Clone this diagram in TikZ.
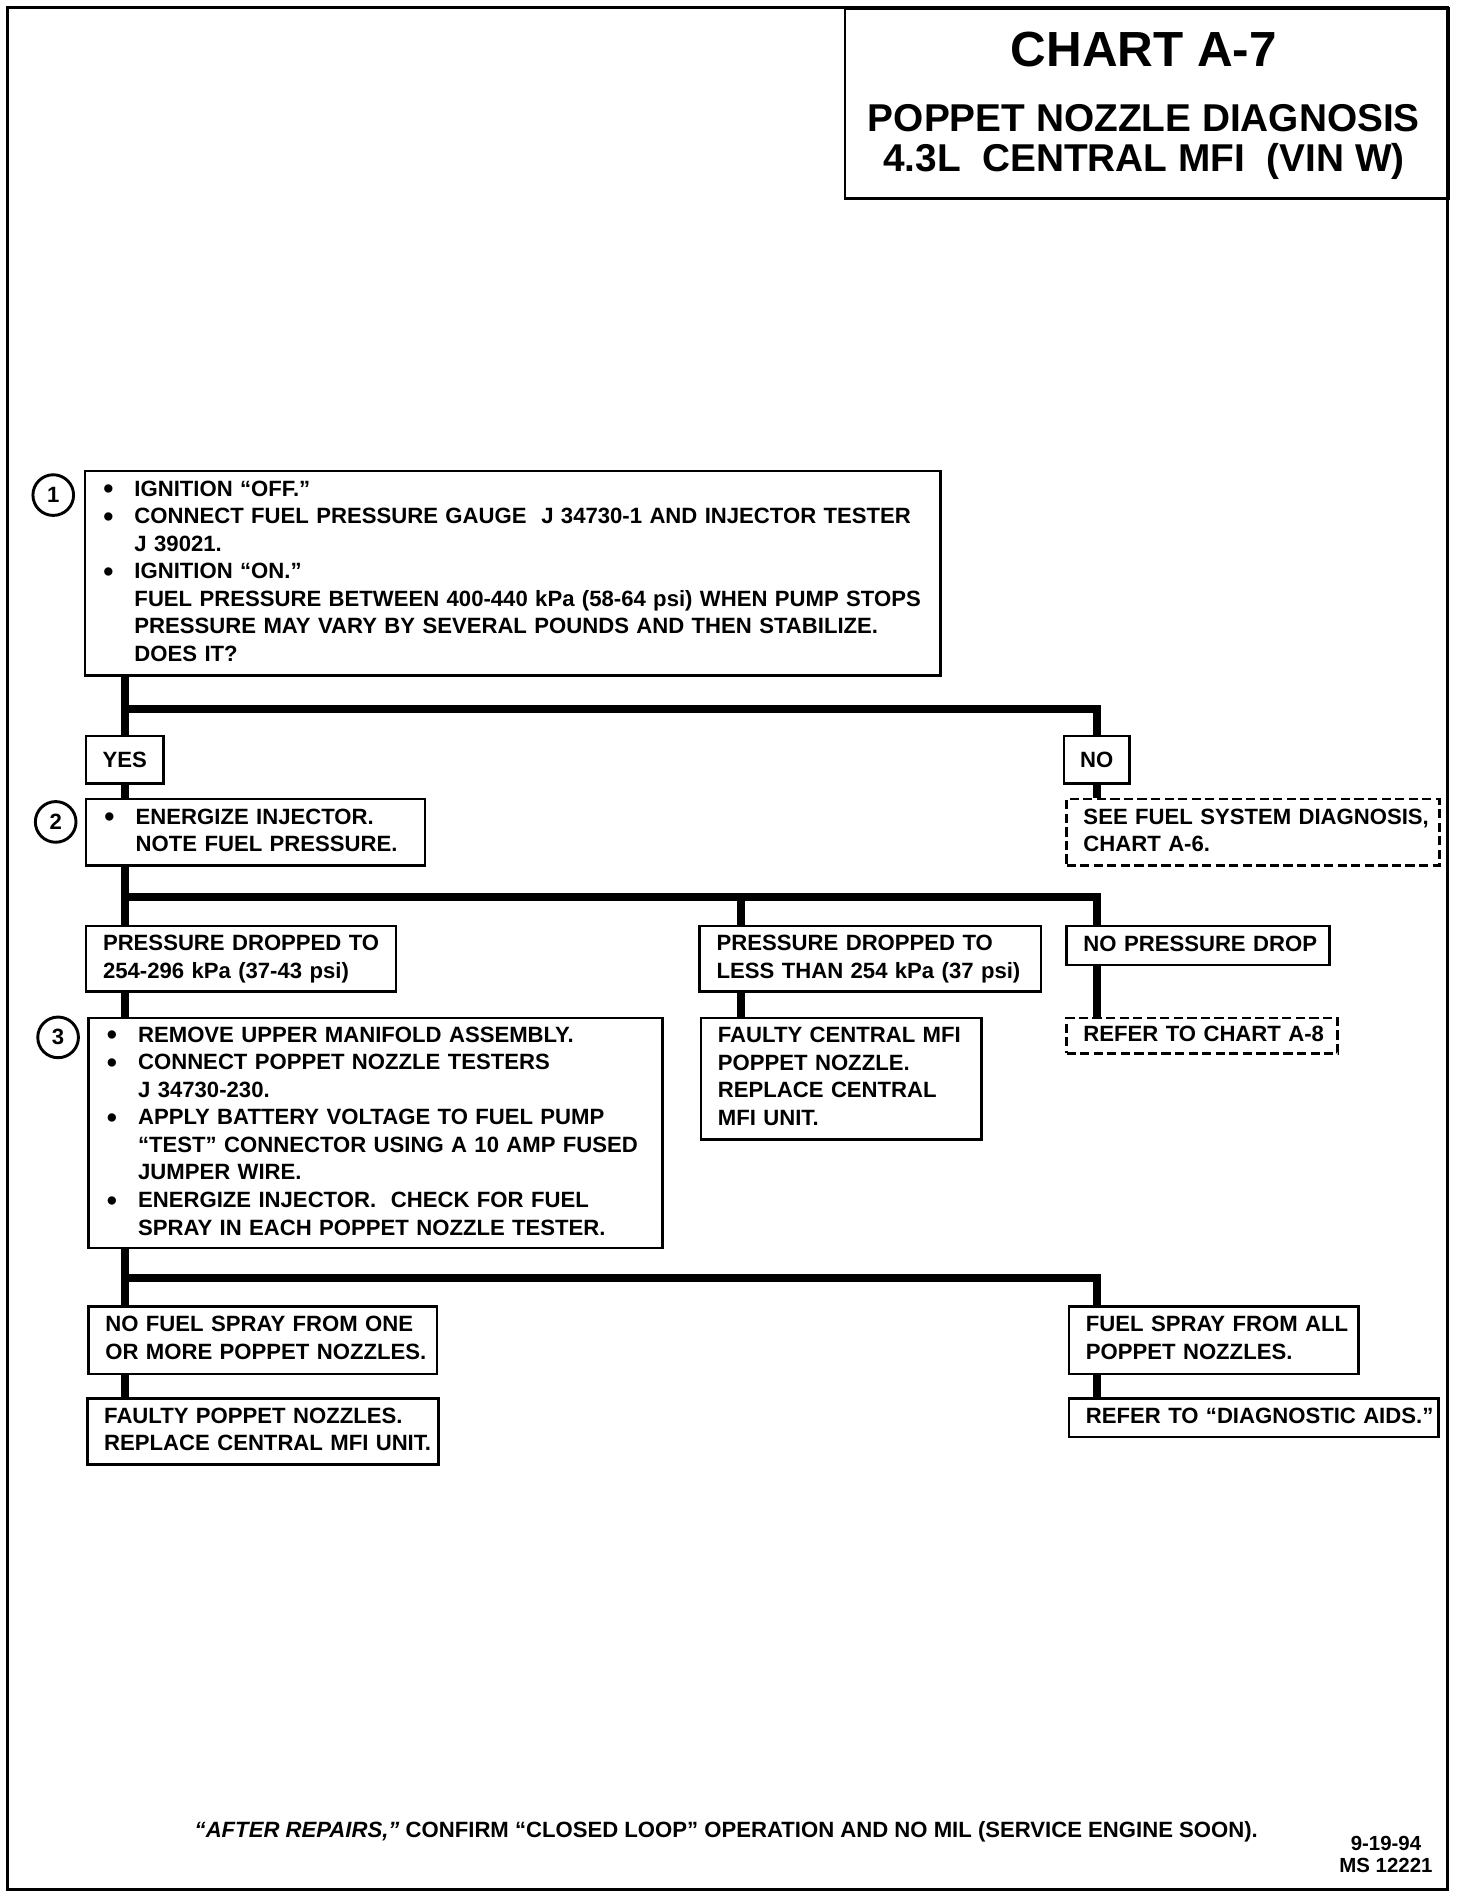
\documentclass[tikz,border=0pt]{standalone}
\usepackage{fontspec}
\setmainfont{Liberation Sans}
\usepackage{tikz}
\usetikzlibrary{positioning}
\definecolor{ink}{RGB}{0,0,0}

\newcommand{\boxfont}{\fontsize{13}{16.2}\selectfont\bfseries}
\newcommand{\bitem}{\makebox[6.75mm][l]{\hspace{0.3mm}\raisebox{-1.5pt}{\fontsize{17}{17}\selectfont\textbullet}}}
\newcommand{\cont}{\hspace*{6.75mm}}
\newcommand{\boxlines}[1]{\noindent\begin{tabular}{@{}l@{}}#1\end{tabular}}

\begin{document}
\begin{tikzpicture}[
    x=0.25mm, y=-0.25mm,
    box/.style={draw=ink, line width=0.55mm, fill=white, anchor=north west,
                inner xsep=3.5mm, inner ysep=0pt, align=left, font=\boxfont},
    dashbox/.style={box, dash pattern=on 1.9mm off 0.9mm},
    answer/.style={draw=ink, line width=0.55mm, fill=white, anchor=north,
                   inner sep=0pt, font=\boxfont},
    stepnum/.style={circle, draw=ink, line width=0.6mm, minimum size=8.4mm,
                    inner sep=0pt, font=\boxfont},
    link/.style={draw=ink, line width=1.6mm},
    titletext/.style={anchor=base, font=\bfseries\fontsize{22.8}{24}\selectfont}
]
    \useasboundingbox (0,0) rectangle (1216,1568);
    \draw[ink, line width=0.6mm] (6,6) rectangle (1196,1561);

    % title block
    \node[draw=ink, line width=0.55mm, anchor=north west, minimum width=124.75mm,
          minimum height=39.25mm, inner sep=0pt] (titlebox) at (697,6) {};
    \node[titletext, font=\bfseries\fontsize{29}{30}\selectfont] (charttitle) at (945,55) {CHART A-7};
    \node[titletext] (chartname) at (945,109) {POPPET NOZZLE DIAGNOSIS};
    \node[titletext] (chartengine) at (945,142) {4.3L\ \ CENTRAL MFI\ \ (VIN W)};

    % step 1
    \node[box, text width=169.75mm, minimum height=42.25mm] (check1) at (69,388) {\boxlines{%
        \bitem IGNITION “OFF.”\\
        \bitem CONNECT FUEL PRESSURE GAUGE\ \ J 34730-1 AND INJECTOR TESTER\\
        \cont J 39021.\\
        \bitem IGNITION “ON.”\\
        \cont FUEL PRESSURE BETWEEN 400-440 kPa (58-64 psi) WHEN PUMP STOPS\\
        \cont PRESSURE MAY VARY BY SEVERAL POUNDS AND THEN STABILIZE.\\
        \cont DOES IT?}};
    \node[stepnum] (step1) at (44,409) {1};

    \node[answer, minimum width=16mm, minimum height=9.75mm] (yes) at (103,607) {YES};
    \node[answer, minimum width=13.5mm, minimum height=9.75mm] (no) at (906,607) {NO};

    % step 2
    \node[box, text width=63mm, minimum height=13.75mm] (energize) at (70,659) {\boxlines{%
        \bitem ENERGIZE INJECTOR.\\
        \cont NOTE FUEL PRESSURE.}};
    \node[stepnum] (step2) at (46,679) {2};
    \node[dashbox, text width=70mm, minimum height=13.75mm] (fuelsys) at (880,659) {\boxlines{%
        SEE FUEL SYSTEM DIAGNOSIS,\\
        CHART A-6.}};

    \node[box, text width=57mm, minimum height=13.5mm] (dropok) at (70,764) {\boxlines{%
        PRESSURE DROPPED TO\\
        254-296 kPa (37-43 psi)}};
    \node[box, text width=63.5mm, minimum height=13.5mm] (droplow) at (577,764) {\boxlines{%
        PRESSURE DROPPED TO\\
        LESS THAN 254 kPa (37 psi)}};
    \node[box, text width=47.25mm, minimum height=8mm] (nodrop) at (880,764) {\boxlines{%
        NO PRESSURE DROP}};

    % step 3
    \node[box, text width=111.5mm, minimum height=47.5mm] (nozzletest) at (72,840) {\boxlines{%
        \bitem REMOVE UPPER MANIFOLD ASSEMBLY.\\
        \bitem CONNECT POPPET NOZZLE TESTERS\\
        \cont J 34730-230.\\
        \bitem APPLY BATTERY VOLTAGE TO FUEL PUMP\\
        \cont “TEST” CONNECTOR USING A 10 AMP FUSED\\
        \cont JUMPER WIRE.\\
        \bitem ENERGIZE INJECTOR.\ \ CHECK FOR FUEL\\
        \cont SPRAY IN EACH POPPET NOZZLE TESTER.}};
    \node[stepnum] (step3) at (48,857) {3};
    \node[box, text width=51mm, minimum height=25mm] (faultymfi) at (578,840) {\boxlines{%
        FAULTY CENTRAL MFI\\
        POPPET NOZZLE.\\
        REPLACE CENTRAL\\
        MFI UNIT.}};
    \node[dashbox, text width=49mm, minimum height=7.25mm] (chartA8) at (880,840) {\boxlines{%
        REFER TO CHART A-8}};

    \node[box, text width=65mm, minimum height=14mm] (nospray) at (72,1078) {\boxlines{%
        NO FUEL SPRAY FROM ONE\\
        OR MORE POPPET NOZZLES.}};
    \node[box, text width=65.5mm, minimum height=13.75mm] (faultynozzles) at (71,1154) {\boxlines{%
        FAULTY POPPET NOZZLES.\\
        REPLACE CENTRAL MFI UNIT.}};
    \node[box, text width=52.75mm, minimum height=14mm] (allspray) at (882,1078) {\boxlines{%
        FUEL SPRAY FROM ALL\\
        POPPET NOZZLES.}};
    \node[box, text width=69.25mm, minimum height=8mm] (diagaids) at (882,1154) {\boxlines{%
        REFER TO “DIAGNOSTIC AIDS.”}};

    % connectors
    \coordinate (fork1) at (103,586);
    \coordinate (fork2) at (103,741);
    \coordinate (midfork) at (612,741);
    \coordinate (fork3) at (103,1056);

    \draw[link] (check1.south -| fork1) -- (yes.north);
    \draw[link] (fork1) -| (no.north);
    \draw[link] (yes.south) -- (energize.north -| yes.south);
    \draw[link] (no.south) -- (fuelsys.north -| no.south);
    \draw[link] (energize.south -| fork2) -- (dropok.north -| fork2);
    \draw[link] (fork2) -| (nodrop.north -| no.south);
    \draw[link] (midfork) -- (droplow.north -| midfork);
    \draw[link] (dropok.south -| fork2) -- (nozzletest.north -| fork2);
    \draw[link] (droplow.south -| midfork) -- (faultymfi.north -| midfork);
    \draw[link] (nodrop.south -| no.south) -- (chartA8.north -| no.south);
    \draw[link] (nozzletest.south -| fork3) -- (nospray.north -| fork3);
    \draw[link] (fork3) -| (allspray.north -| no.south);
    \draw[link] (nospray.south -| fork3) -- (faultynozzles.north -| fork3);
    \draw[link] (allspray.south -| no.south) -- (diagaids.north -| no.south);

    % footer
    \node[anchor=base, font=\boxfont] (afterfix) at (600,1518)
        {\textit{“AFTER REPAIRS,”} CONFIRM “CLOSED LOOP” OPERATION AND NO MIL (SERVICE ENGINE SOON).};
    \node[anchor=base, font=\bfseries\fontsize{12}{13}\selectfont] (chartdate) at (1145,1529) {9-19-94};
    \node[anchor=base, font=\bfseries\fontsize{12}{13}\selectfont] (msnum) at (1145,1547) {MS 12221};
\end{tikzpicture}
\end{document}
